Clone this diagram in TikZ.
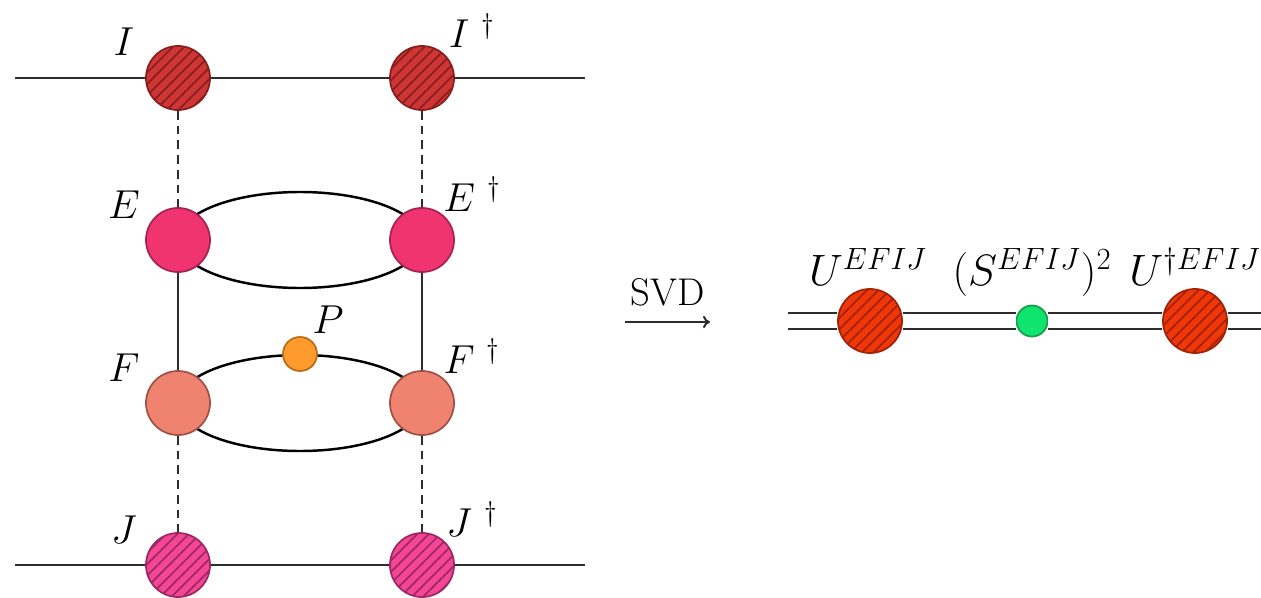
\RequirePackage{fix-cm}
\documentclass[tikz,border=0pt]{standalone}
\usepackage{amsmath, amssymb}
\usepackage{tikz}
\usetikzlibrary{arrows.meta,positioning,calc,patterns.meta,backgrounds}
\usepackage{xcolor}

\definecolor{linegray}{RGB}{45,45,45}
\definecolor{Ifill}{RGB}{206,54,54}
\definecolor{Iedge}{RGB}{138,30,30}
\definecolor{Efill}{RGB}{240,52,112}
\definecolor{Eedge}{RGB}{168,34,84}
\definecolor{Ffill}{RGB}{240,130,112}
\definecolor{Fedge}{RGB}{160,82,72}
\definecolor{Jfill}{RGB}{245,70,150}
\definecolor{Jedge}{RGB}{158,40,100}
\definecolor{Pfill}{RGB}{255,155,45}
\definecolor{Pedge}{RGB}{188,108,20}
\definecolor{Ufill}{RGB}{240,55,10}
\definecolor{Uedge}{RGB}{162,34,8}
\definecolor{Sfill}{RGB}{15,228,110}
\definecolor{Sedge}{RGB}{24,158,74}

\begin{document}
\begin{tikzpicture}[
        site/.style={circle, draw, line width=1pt, inner sep=0pt, minimum size=1.28cm},
        dot/.style={circle, draw, line width=1pt, inner sep=0pt, minimum size=0.66cm},
        hatched/.style 2 args={draw=#2, preaction={fill=#1}, pattern color=#2,
            pattern={Lines[angle=45, distance=4.6pt, line width=1pt]}},
        plain/.style 2 args={draw=#2, fill=#1},
        bond/.style={draw=linegray, line width=1.15pt},
        weak/.style={bond, dash pattern=on 5pt off 3.4pt},
        ring/.style={draw=black, line width=1.4pt},
        lbl/.style={anchor=base, inner sep=0pt, font=\fontsize{23}{28}\selectfont},
        rlbl/.style={anchor=base, inner sep=0pt, font=\fontsize{25}{30}\selectfont}
    ]
    \useasboundingbox (0,0) rectangle (25.22,11.94);

    % left network
    \node[site, hatched={Ifill}{Iedge}] (I)  at (3.56,10.38) {};
    \node[site, hatched={Ifill}{Iedge}] (Id) at (8.44,10.38) {};
    \node[site, plain={Efill}{Eedge}]   (E)  at (3.56,7.14) {};
    \node[site, plain={Efill}{Eedge}]   (Ed) at (8.44,7.14) {};
    \node[site, plain={Ffill}{Fedge}]   (F)  at (3.56,3.88) {};
    \node[site, plain={Ffill}{Fedge}]   (Fd) at (8.44,3.88) {};
    \node[site, hatched={Jfill}{Jedge}] (J)  at (3.56,0.64) {};
    \node[site, hatched={Jfill}{Jedge}] (Jd) at (8.44,0.64) {};
    \node[dot, minimum size=0.68cm, plain={Pfill}{Pedge}] (P) at (6.0,4.86) {};

    \coordinate (Iin)  at (0.3,10.38);
    \coordinate (Iout) at (11.7,10.38);
    \coordinate (Jin)  at (0.3,0.64);
    \coordinate (Jout) at (11.7,0.64);

    \draw[bond] (Iin) -- (I) -- (Id) -- (Iout);
    \draw[bond] (Jin) -- (J) -- (Jd) -- (Jout);
    \draw[weak] (I) -- (E);
    \draw[weak] (Id) -- (Ed);
    \draw[bond] (E) -- (F);
    \draw[bond] (Ed) -- (Fd);
    \draw[weak] (F) -- (J);
    \draw[weak] (Fd) -- (Jd);

    \begin{scope}[on background layer]
        \draw[ring] ($(E)!0.5!(Ed)$) ellipse (2.44 and 0.96);
        \draw[ring] ($(F)!0.5!(Fd)$) ellipse (2.44 and 0.96);
    \end{scope}

    \node[lbl] (Ilab)  at (2.48,10.82) {$I$};
    \node[lbl] (Idlab) at (9.44,10.98) {$I^{\ \dagger}$};
    \node[lbl] (Elab)  at (2.48,7.58) {$E$};
    \node[lbl] (Edlab) at (9.44,7.72) {$E^{\ \dagger}$};
    \node[lbl] (Flab)  at (2.48,4.32) {$F$};
    \node[lbl] (Fdlab) at (9.44,4.48) {$F^{\ \dagger}$};
    \node[lbl] (Jlab)  at (2.48,1.08) {$J$};
    \node[lbl] (Jdlab) at (9.44,1.22) {$J^{\ \dagger}$};
    \node[lbl] (Plab)  at (6.56,5.28) {$P$};

    % decomposition
    \coordinate (svd0) at (12.5,5.50);
    \coordinate (svd1) at (14.2,5.50);
    \draw[bond, -{To[length=4pt,width=7pt]}] (svd0) -- node[above=0.3cm, inner sep=0pt, font=\fontsize{22}{26}\selectfont] (svdlab) {SVD} (svd1);

    \node[site, hatched={Ufill}{Uedge}] (U)  at (17.4,5.52) {};
    \node[dot, minimum size=0.62cm, plain={Sfill}{Sedge}] (S) at (20.64,5.52) {};
    \node[site, hatched={Ufill}{Uedge}] (Ud) at (23.9,5.52) {};
    \coordinate (Uin)  at (15.76,5.52);
    \coordinate (Uout) at (25.22,5.52);
    \draw[bond, double=white, double distance=0.32cm-1.15pt] (Uin) -- (U) -- (S) -- (Ud) -- (Uout);

    \node[rlbl] (Ulab)  at (17.36,6.24) {$U^{EFIJ}$};
    \node[rlbl] (Slab)  at (20.64,6.24) {$(S^{EFIJ})^{2}$};
    \node[rlbl] (Udlab) at (23.9,6.24) {$U^{\dagger EFIJ}$};
\end{tikzpicture}
\end{document}
